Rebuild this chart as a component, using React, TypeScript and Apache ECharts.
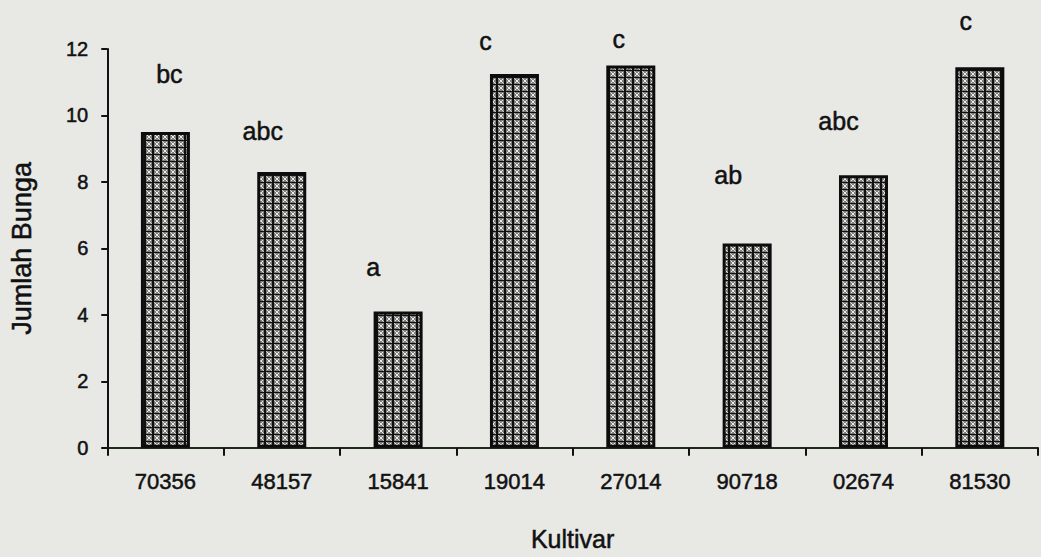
import React, { useEffect, useRef } from "react";
import * as echarts from "echarts";

// ---- data ----
const categories = ["70356", "48157", "15841", "19014", "27014", "90718", "02674", "81530"];
const jumlahBunga = [9.5, 8.3, 4.1, 11.25, 11.5, 6.15, 8.2, 11.45];
const notasi = ["bc", "abc", "a", "c", "c", "ab", "abc", "c"];
const yTicks = { min: 0, max: 12, interval: 2 };

// ---- label placement (style only, pixels relative to the bar top) ----
const letterOffsets: [number, number][] = [
  [4, -46],
  [-19, -28],
  [-25, -32],
  [-29, -20],
  [-12, -14],
  [-19, -56],
  [-25, -42],
  [-14, -34],
];

const FONT = "'Liberation Sans', Arial, Helvetica, sans-serif";
const INK = "#111111";
const THICK = { textBorderColor: INK, textBorderWidth: 0.5 };

function makePattern(): string {
  const c = document.createElement("canvas");
  c.width = 8;
  c.height = 7;
  const g = c.getContext("2d")!;
  g.fillStyle = "#7c7c7a";
  g.fillRect(0, 0, 8, 7);
  g.fillStyle = "#101010";
  g.fillRect(0, 0, 2, 7);
  g.fillRect(0, 0, 8, 1);
  g.fillStyle = "#ecece8";
  const spots = [
    [3, 2], [6, 2], [4, 3], [5, 3], [3, 5], [6, 5], [4, 4], [5, 4],
  ];
  spots.forEach(([x, y]) => g.fillRect(x, y, 1, 1));
  g.fillStyle = "#c8c8c4";
  g.fillRect(2, 1, 1, 1);
  g.fillRect(7, 6, 1, 1);
  return c.toDataURL();
}

export default function App() {
  const ref = useRef<HTMLDivElement>(null);
  useEffect(() => {
    document.body.style.margin = "0";
    const chart = echarts.init(ref.current!, undefined, { renderer: "svg" });
    const pattern = makePattern();
    chart.setOption({
      animation: false,
      backgroundColor: "#e8e8e5",
      textStyle: { fontFamily: FONT, color: INK },
      grid: { left: 97, right: 3, top: 49, bottom: 91, containLabel: false },
      xAxis: {
        type: "category",
        data: categories,
        boundaryGap: true,
        name: "Kultivar",
        nameLocation: "middle",
        nameGap: 79,
        nameTextStyle: { fontSize: 25, color: INK, fontFamily: FONT, ...THICK },
        axisLine: { show: true, lineStyle: { color: "#1d2a18", width: 2 } },
        axisTick: { show: true, length: 8, lineStyle: { color: INK, width: 2 } },
        axisLabel: { fontSize: 22, color: INK, margin: 23, fontFamily: FONT, ...THICK },
        splitLine: { show: false },
      },
      yAxis: {
        type: "value",
        min: yTicks.min,
        max: yTicks.max,
        interval: yTicks.interval,
        name: "Jumlah Bunga",
        nameLocation: "middle",
        nameGap: 72,
        nameRotate: 90,
        nameTextStyle: { fontSize: 27, color: INK, fontFamily: FONT, ...THICK },
        axisLine: { show: true, lineStyle: { color: INK, width: 2 } },
        axisTick: { show: true, length: 6, lineStyle: { color: INK, width: 2 } },
        axisLabel: { fontSize: 20, color: INK, margin: 19, fontFamily: FONT, ...THICK },
        splitLine: { show: false },
      },
      series: [
        {
          type: "bar",
          barWidth: 49,
          data: jumlahBunga.map((v, i) => ({
            value: v,
            label: { formatter: notasi[i], offset: letterOffsets[i] },
          })),
          itemStyle: {
            color: { image: pattern, repeat: "repeat" },
            borderColor: "#0c0c0c",
            borderWidth: 3,
          },
          label: {
            show: true,
            position: "top",
            distance: 0,
            fontSize: 25,
            color: INK,
            fontFamily: FONT,
            ...THICK,
          },
        },
      ],
    });
    return () => chart.dispose();
  }, []);
  return <div ref={ref} style={{ width: 1041, height: 557 }} />;
}
